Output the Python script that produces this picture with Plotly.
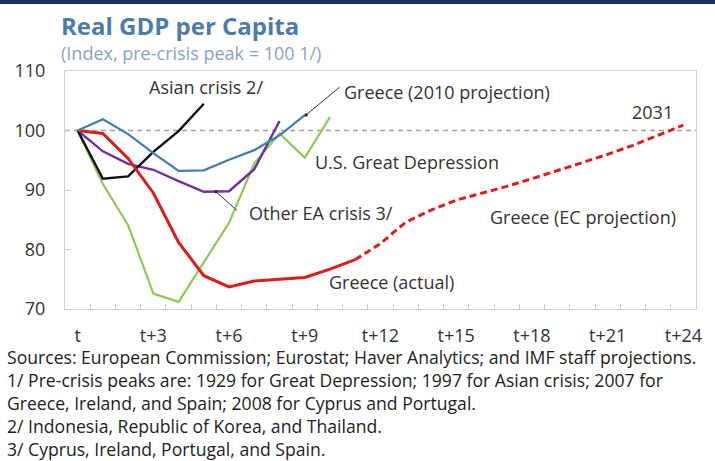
import plotly.graph_objects as go

# Period index: t, t+1, ... t+24
periods = list(range(25))
tick_positions = [0, 3, 6, 9, 12, 15, 18, 21, 24]
tick_labels = ["t", "t+3", "t+6", "t+9", "t+12", "t+15", "t+18", "t+21", "t+24"]

# Real GDP per capita, index (pre-crisis peak = 100)
greece_actual = [100, 99.5, 95.3, 89.5, 81.2, 75.6, 73.7, 74.7, 75.0, 75.3, 76.7, 78.3]
greece_ec_proj = [78.3, 81.0, 84.6, 86.6, 88.3, 89.4, 90.6, 91.9, 93.2, 94.6, 96.0, 97.5, 99.2, 100.9]
greece_2010_proj = [100, 101.9, 99.4, 96.2, 93.2, 93.3, 95.1, 96.7, 99.2, 102.6]
asian_crisis = [100, 91.9, 92.3, 96.4, 99.9, 104.5]
us_depression = [100, 91.0, 84.1, 72.6, 71.2, 77.9, 84.5, 94.5, 99.5, 95.4, 102.3]
other_ea = [100, 96.5, 94.4, 93.4, 91.5, 89.7, 89.8, 93.5, 101.6]

FONT = "Open Sans"
TXT = "#333333"
X_RANGE = [-0.5, 24.5]

fig = go.Figure()


def add_line(values, color, width, start=0, dash="solid", xaxis="x"):
    fig.add_trace(go.Scatter(
        x=periods[start:start + len(values)], y=values, mode="lines",
        line=dict(color=color, width=width, dash=dash), xaxis=xaxis,
        hoverinfo="skip", showlegend=False))


add_line(us_depression, "#8CCB52", 2.2)
add_line(greece_2010_proj, "#3E7EB0", 2.2, xaxis="x2")
add_line(other_ea, "#7030A0", 2.4)
add_line(asian_crisis, "#111111", 2.4)
add_line(greece_ec_proj, "#E31A1C", 3, start=11, dash="7px,4px")
add_line(greece_actual, "#E31A1C", 3)

# Reference line at the pre-crisis peak
fig.add_shape(type="line", xref="paper", x0=0, x1=1, yref="y", y0=100, y1=100,
              line=dict(color="#A0A0A0", width=1.5, dash="5px,4px"), layer="below")

# Thin navy band across the top of the slide
fig.add_shape(type="rect", xref="paper", yref="paper",
              x0=-0.11, x1=1.04, y0=(309 - 4) / 238, y1=(309 + 2) / 238,
              line=dict(width=0), fillcolor="#1B3160")


def label(text, x, y, xanchor="left", size=18):
    fig.add_annotation(text=text, x=x, y=y, xref="x", yref="y", xanchor=xanchor,
                       yanchor="middle", showarrow=False,
                       font=dict(family=FONT, size=size, color=TXT))


label("Asian crisis 2/", 2.75, 107.3)
label("Greece (2010 projection)", 10.48, 106.5)
label("U.S. Great Depression", 9.33, 94.7)
label("Other EA crisis 3/", 6.71, 86.2)
label("Greece (actual)", 9.88, 74.5)
label("Greece (EC projection)", 16.26, 85.5)
label("2031", 23.67, 103.1, xanchor="right")

# Leader lines from labels to their series
for tip, tail in [((9.05, 102.6), (10.44, 107.5)), ((5.48, 89.7), (6.37, 86.35))]:
    fig.add_annotation(x=tip[0], y=tip[1], ax=tail[0], ay=tail[1],
                       xref="x", yref="y", axref="x", ayref="y", text="",
                       showarrow=True, arrowhead=6, arrowsize=0.9,
                       arrowwidth=1, arrowcolor="#333333", standoff=0)

# Title and subtitle
fig.add_annotation(text="<b>Real GDP per Capita</b>", xref="paper", yref="paper",
                   x=(59 - 65) / 631, y=(309 - 25) / 238, xanchor="left", yanchor="middle",
                   showarrow=False, font=dict(family=FONT, size=24, color="#4B7DAA"))
fig.add_annotation(text="(Index, pre-crisis peak = 100 1/)", xref="paper", yref="paper",
                   x=(59 - 65) / 631, y=(309 - 53) / 238, xanchor="left", yanchor="middle",
                   showarrow=False, font=dict(family=FONT, size=18, color="#86A4C6"))

# Footnotes, one text block
notes = [
    "Sources: European Commission; Eurostat; Haver Analytics; and IMF staff projections.",
    "1/ Pre-crisis peaks are: 1929 for Great Depression; 1997 for Asian crisis; 2007 for",
    "Greece, Ireland, and Spain; 2008 for Cyprus and Portugal.",
    "2/ Indonesia, Republic of Korea, and Thailand.",
    "3/ Cyprus, Ireland, Portugal, and Spain.",
]
fig.add_annotation(text="<br>".join(notes), xref="paper", yref="paper",
                   x=(6 - 65) / 631, y=(309 - 344) / 238, xanchor="left", yanchor="top",
                   align="left", showarrow=False, borderpad=0,
                   font=dict(family=FONT, size=17.6, color="#222222"))

fig.update_layout(
    width=715, height=461,
    margin=dict(l=65, r=19, t=71, b=152, autoexpand=False),
    paper_bgcolor="white", plot_bgcolor="white",
    font=dict(family=FONT, color=TXT),
    # Category boundaries: small inside ticks between periods
    xaxis=dict(
        range=X_RANGE, tickmode="linear", tick0=-0.5, dtick=1,
        ticks="inside", ticklen=5, tickcolor="#C8C8C8", showticklabels=False,
        showgrid=False, zeroline=False, showline=True, linecolor="#D0D0D0",
        linewidth=1, mirror=True, automargin=False,
    ),
    # Period labels every three steps
    xaxis2=dict(
        range=X_RANGE, overlaying="x", anchor="y", side="bottom",
        tickmode="array", tickvals=tick_positions, ticktext=tick_labels,
        ticks="", showgrid=False, zeroline=False, showline=False, automargin=False,
        ticklabelstandoff=14, tickfont=dict(family=FONT, size=18, color=TXT),
    ),
    yaxis=dict(
        range=[70, 110], tickmode="linear", tick0=70, dtick=10,
        ticks="inside", ticklen=5, tickcolor="#C8C8C8",
        showgrid=False, zeroline=False, showline=True, linecolor="#D0D0D0",
        linewidth=1, mirror=True, ticklabelstandoff=15, automargin=False,
        tickfont=dict(family=FONT, size=18, color=TXT),
    ),
)

fig.write_html("out.html")
